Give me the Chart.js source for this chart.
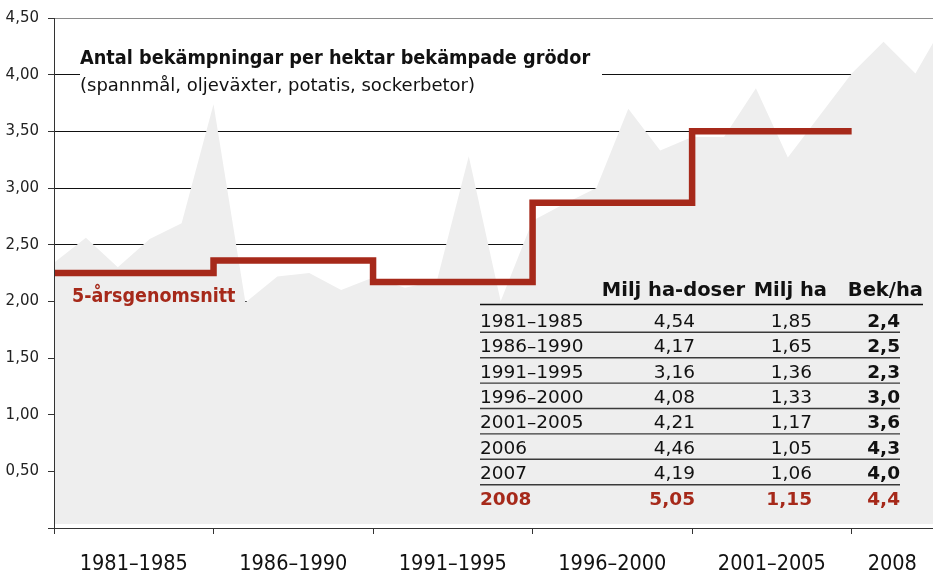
<!DOCTYPE html>
<html>
<head>
<meta charset="utf-8">
<script src="https://cdn.jsdelivr.net/npm/chart.js@4.4.1/dist/chart.umd.min.js"></script>
<style>
  html, body { margin: 0; padding: 0; background: #fff; }
  #c { display: block; }
</style>
</head>
<body>
<canvas id="c" width="933" height="574"></canvas>
<script>
// ---- Data ----
const years = [1980,1981,1982,1983,1984,1985,1986,1987,1988,1989,1990,1991,1992,1993,1994,1995,1996,1997,1998,1999,2000,2001,2002,2003,2004,2005,2006,2007,2008];
const bekPerHa = [2.34,2.56,2.30,2.55,2.69,3.74,1.99,2.22,2.25,2.10,2.21,2.12,2.18,3.28,2.00,2.71,2.86,3.00,3.70,3.33,3.45,3.45,3.88,3.27,3.64,4.01,4.29,4.01,4.50];

const stepYears = [1980,1985,1990,1995,2000,2005];
const stepAvg   = [2.25,2.36,2.17,2.87,3.50,3.50];

const periodBounds = [1980,1985,1990,1995,2000,2005];
const periodLabels = ['1981\u20131985','1986\u20131990','1991\u20131995','1996\u20132000','2001\u20132005','2008'];

const yTicks = [0,0.5,1,1.5,2,2.5,3,3.5,4,4.5];

const tablePeriods = ['1981\u20131985','1986\u20131990','1991\u20131995','1996\u20132000','2001\u20132005','2006','2007','2008'];
const tableDoses   = ['4,54','4,17','3,16','4,08','4,21','4,46','4,19','5,05'];
const tableHa      = ['1,85','1,65','1,36','1,33','1,17','1,05','1,06','1,15'];
const tableBek     = ['2,4','2,5','2,3','3,0','3,6','4,3','4,0','4,4'];
const tableHeaders = ['Milj ha-doser','Milj ha','Bek/ha'];

const titleText = 'Antal bek\u00e4mpningar per hektar bek\u00e4mpade gr\u00f6dor';
const subtitleText = '(spannm\u00e5l, oljev\u00e4xter, potatis, sockerbetor)';
const avgLabel = '5-\u00e5rsgenomsnitt';

// ---- Styling ----
const RED = '#a6291a';
const GRAY = '#eeeeee';
const X_MIN = 1980, X_MAX = 2007.55;

// tick positions: period boundaries + label positions (midpoints)
const labelPos = periodBounds.map((b, i) => {
  const next = i + 1 < periodBounds.length ? periodBounds[i + 1] : X_MAX;
  return (b + next) / 2;
});
const xTickValues = [...periodBounds, ...labelPos].sort((a, b) => a - b);

const overlay = {
  id: 'overlay',
  afterDatasetsDraw(chart) {
    const ctx = chart.ctx;
    ctx.save();
    // title box
    ctx.fillStyle = '#ffffff';
    ctx.fillRect(80, 44, 522, 56);
    ctx.fillStyle = '#111';
    ctx.textAlign = 'left';
    ctx.textBaseline = 'alphabetic';
    ctx.font = 'bold 19.7px "DejaVu Sans Condensed", "DejaVu Sans"';
    ctx.fillText(titleText, 80, 64);
    ctx.font = '18px "DejaVu Sans"';
    ctx.fillText(subtitleText, 80, 91);

    // 5-year label
    ctx.fillStyle = RED;
    ctx.font = 'bold 19.5px "DejaVu Sans Condensed", "DejaVu Sans"';
    ctx.fillText(avgLabel, 72, 302);

    // table
    const colRight = [695, 812, 900];
    const headRight = [745, 827, 923];
    ctx.fillStyle = '#111';
    ctx.font = 'bold 19.5px "DejaVu Sans"';
    ctx.textAlign = 'right';
    tableHeaders.forEach((h, i) => ctx.fillText(h, headRight[i], 296));

    ctx.strokeStyle = '#111';
    ctx.lineWidth = 1.3;
    ctx.beginPath();
    ctx.moveTo(480, 304.5); ctx.lineTo(923, 304.5);
    ctx.stroke();

    ctx.strokeStyle = '#3a3a3a';
    ctx.lineWidth = 1.4;
    for (let i = 0; i < tablePeriods.length - 1; i++) {
      const y = 332.3 + 25.4 * i;
      ctx.beginPath();
      ctx.moveTo(480, y); ctx.lineTo(900, y);
      ctx.stroke();
    }

    tablePeriods.forEach((p, i) => {
      const y = 326.7 + 25.4 * i;
      const last = i === tablePeriods.length - 1;
      ctx.fillStyle = last ? RED : '#111';
      ctx.font = (last ? 'bold ' : '') + '18.5px "DejaVu Sans"';
      ctx.textAlign = 'left';
      ctx.fillText(p, 480, y);
      ctx.textAlign = 'right';
      ctx.fillText(tableDoses[i], colRight[0], y);
      ctx.fillText(tableHa[i], colRight[1], y);
      ctx.font = 'bold 18.5px "DejaVu Sans"';
      ctx.fillText(tableBek[i], colRight[2], y);
    });
    ctx.restore();
  }
};

new Chart(document.getElementById('c'), {
  type: 'line',
  data: {
    datasets: [
      {
        label: '5-årsgenomsnitt',
        data: stepYears.map((x, i) => ({ x, y: stepAvg[i] })),
        stepped: true,
        borderColor: RED,
        borderWidth: 6.5,
        borderJoinStyle: 'miter',
        borderCapStyle: 'butt',
        pointRadius: 0,
        fill: false
      },
      {
        label: 'Bek/ha',
        data: years.map((x, i) => ({ x, y: bekPerHa[i] })),
        borderWidth: 0,
        borderColor: 'rgba(0,0,0,0)',
        backgroundColor: GRAY,
        fill: { value: 0.035 },
        pointRadius: 0,
        tension: 0
      }
    ]
  },
  options: {
    responsive: false,
    animation: false,
    devicePixelRatio: 1,
    layout: { padding: { top: 17, right: 0, bottom: 0, left: 0 } },
    plugins: { legend: { display: false }, tooltip: { enabled: false } },
    scales: {
      x: {
        type: 'linear',
        min: X_MIN,
        max: X_MAX,
        afterBuildTicks: (scale) => { scale.ticks = xTickValues.map(v => ({ value: v })); },
        afterFit: (scale) => { scale.height = 46; scale.paddingLeft = 0; scale.paddingRight = 0; },
        grid: {
          drawOnChartArea: false,
          drawTicks: true,
          tickLength: 6,
          tickColor: (c) => (c.tick && periodBounds.includes(c.tick.value)) ? '#333' : 'rgba(0,0,0,0)',
          tickWidth: 1
        },
        border: { display: true, color: '#333', width: 1, z: 1 },
        ticks: {
          autoSkip: false,
          maxRotation: 0,
          padding: 18,
          color: '#111',
          font: { family: '"DejaVu Sans Condensed", "DejaVu Sans"', size: 21.5 },
          callback: (v) => {
            const idx = labelPos.findIndex(p => Math.abs(p - v) < 1e-6);
            return idx >= 0 ? periodLabels[idx] : '';
          }
        }
      },
      y: {
        min: 0,
        max: 4.5,
        afterBuildTicks: (scale) => { scale.ticks = yTicks.map(v => ({ value: v })); },
        afterFit: (scale) => { scale.width = 54; },
        grid: {
          color: (c) => (c.tick && c.tick.value === 4.5) ? '#8a8a8a' : '#111',
          lineWidth: 1,
          drawTicks: true,
          tickLength: 6,
          tickColor: '#333'
        },
        border: { display: true, color: '#333', width: 1, z: 1 },
        ticks: {
          padding: 9,
          color: '#222',
          font: { family: '"DejaVu Sans"', size: 15 },
          callback: (v) => v === 0 ? '' : v.toFixed(2).replace('.', ',')
        }
      }
    }
  },
  plugins: [overlay]
});
</script>
</body>
</html>
